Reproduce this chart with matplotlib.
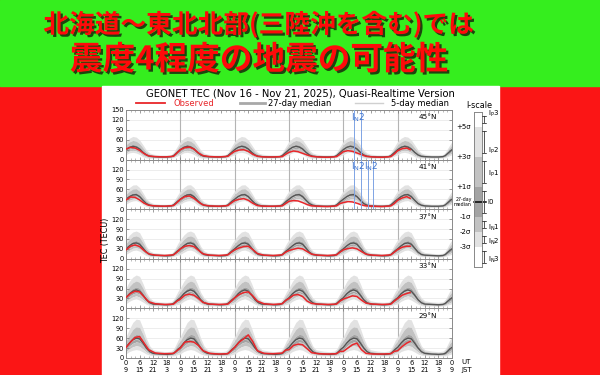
import matplotlib.pyplot as plt
import matplotlib.patheffects as pe
from matplotlib.patches import Rectangle
from matplotlib.lines import Line2D
import numpy as np

plt.rcParams['font.family'] = ['DejaVu Sans']

HEADLINE_1 = '北海道〜東北北部(三陸沖を含む)では'
HEADLINE_2 = '震度4程度の地震の可能性'
TITLE = 'GEONET TEC (Nov 16 - Nov 21, 2025), Quasi-Realtime Version'
LATS = ['45°N', '41°N', '37°N', '33°N', '29°N']
N_DAYS = 6

# knots (UT hour) of the daily median / sigma profiles
PROFILE_H = [0, 1.5, 3, 4.5, 6, 7.5, 9, 10.5, 12, 15, 18, 20, 21, 22, 23]

MED27_45 = [30, 37, 40, 38, 32, 22, 14, 10, 9, 8, 8, 9, 12, 18, 24]
MED27_41 = [30, 38, 43, 44, 38, 27, 17, 12, 10, 9, 9, 10, 13, 19, 25]
MED27_37 = [30, 39, 46, 48, 44, 32, 20, 13, 11, 10, 9, 10, 13, 19, 25]
MED27_33 = [32, 44, 52, 56, 52, 40, 26, 17, 13, 12, 11, 12, 15, 21, 27]
MED27_29 = [32, 45, 55, 60, 58, 45, 30, 19, 14, 12, 11, 12, 14, 20, 27]

MED5_45 = [28, 34, 37, 35, 29, 20, 13, 10, 9, 8, 8, 9, 11, 17, 23]
MED5_41 = [28, 35, 39, 40, 35, 25, 16, 11, 10, 9, 9, 10, 12, 18, 24]
MED5_37 = [29, 37, 43, 45, 41, 30, 19, 13, 11, 10, 9, 10, 13, 19, 25]
MED5_33 = [31, 42, 48, 52, 48, 37, 24, 16, 13, 12, 11, 12, 14, 20, 26]
MED5_29 = [30, 43, 52, 57, 54, 42, 28, 18, 14, 12, 11, 12, 14, 20, 26]

SIG_45 = [5, 5.5, 6, 6, 5.5, 4.5, 3, 2, 1.5, 1.2, 1.2, 1.3, 2, 3, 4]
SIG_41 = [5, 5.5, 6, 6, 5.5, 4.5, 3, 2, 1.5, 1.2, 1.2, 1.3, 2, 3, 4]
SIG_37 = [5.5, 6.5, 7, 7.2, 7, 5.5, 3.5, 2.2, 1.6, 1.3, 1.3, 1.4, 2, 3.2, 4.5]
SIG_33 = [6, 7.5, 8.5, 9, 9, 7, 4.5, 3, 2, 1.5, 1.5, 1.6, 2.4, 3.6, 5]
SIG_29 = [6.5, 8.5, 10.5, 11.5, 11.5, 9, 6, 3.5, 2.2, 1.8, 1.6, 1.8, 2.6, 4, 5.5]

# observed TEC, read at these UT hours of each day (Nov 16..20), then Nov 21 morning
OBS_H = [0, 2, 4, 6, 8, 10, 13, 17, 21, 22.5]
OBS_H_LAST = [0, 2, 4, 5.5]

OBS_45 = [32, 37, 35, 28, 18, 11, 9, 8, 10, 20,
          30, 36, 38, 32, 20, 12, 9, 8, 10, 18,
          25, 29, 30, 25, 16, 10, 8, 8, 9, 16,
          22, 26, 24, 19, 14, 10, 8, 7, 9, 16,
          24, 27, 25, 20, 15, 10, 8, 7, 9, 17,
          27, 33, 35, 30]
OBS_41 = [28, 37, 36, 28, 18, 12, 10, 9, 11, 20,
          30, 38, 40, 33, 22, 13, 10, 9, 11, 19,
          26, 30, 32, 27, 18, 11, 9, 9, 10, 17,
          24, 26, 25, 20, 14, 10, 9, 8, 10, 17,
          20, 23, 22, 18, 13, 10, 9, 8, 10, 17,
          27, 34, 38, 33]
OBS_37 = [27, 38, 42, 37, 25, 15, 11, 10, 12, 20,
          30, 38, 40, 37, 26, 15, 11, 10, 12, 20,
          27, 33, 37, 38, 28, 16, 11, 10, 12, 20,
          25, 29, 32, 30, 22, 14, 11, 10, 12, 20,
          27, 31, 33, 30, 22, 14, 11, 10, 12, 20,
          28, 35, 38, 38]
OBS_33 = [33, 45, 52, 50, 35, 20, 14, 12, 13, 22,
          28, 40, 43, 40, 30, 18, 13, 12, 13, 22,
          32, 42, 48, 50, 38, 22, 14, 12, 14, 24,
          30, 40, 42, 36, 22, 15, 13, 12, 13, 22,
          28, 33, 38, 36, 25, 16, 13, 12, 13, 22,
          30, 40, 45, 48]
OBS_29 = [32, 48, 62, 65, 45, 25, 15, 13, 14, 22,
          30, 48, 50, 48, 38, 22, 14, 12, 13, 22,
          32, 48, 58, 70, 50, 22, 14, 13, 15, 24,
          25, 38, 42, 40, 28, 16, 13, 12, 13, 20,
          20, 30, 40, 45, 25, 14, 12, 12, 13, 20,
          22, 35, 45, 50]

MED27 = [MED27_45, MED27_41, MED27_37, MED27_33, MED27_29]
MED5 = [MED5_45, MED5_41, MED5_37, MED5_33, MED5_29]
SIGMA = [SIG_45, SIG_41, SIG_37, SIG_33, SIG_29]
OBS = [OBS_45, OBS_41, OBS_37, OBS_33, OBS_29]

# I_N2 anomaly windows (hours since Nov 16 00 UT)
ANOMALY = {0: [(100.9, 104.0)], 1: [(100.9, 104.0), (107.1, 109.3)]}

# I-scale bar
ISCALE_EDGES = [6, 5, 3, 1, -1, -2, -3, -4.33]
ISCALE_COLORS = ['white', '#e2e2e2', '#c2c2c2', '#a3a3a3', '#c2c2c2', '#e2e2e2', 'white']
SIGMA_LABELS = {5: '+5σ', 3: '+3σ', 1: '+1σ', -1: '-1σ', -2: '-2σ', -3: '-3σ'}
LEVEL_NAMES = [(5.9, r'I$_\mathrm{P}$3'), (3.4, r'I$_\mathrm{P}$2'), (1.9, r'I$_\mathrm{P}$1'),
               (0, 'I0'), (-1.7, r'I$_\mathrm{N}$1'), (-2.65, r'I$_\mathrm{N}$2'),
               (-3.85, r'I$_\mathrm{N}$3')]


def tile_profile(values):
    t = np.concatenate([d * 24 + np.array(PROFILE_H) for d in range(N_DAYS)] + [[N_DAYS * 24]])
    v = np.array(list(values) * N_DAYS + [values[0]], dtype=float)
    return t, v


obs_t = np.concatenate([d * 24 + np.array(OBS_H) for d in range(5)] + [120 + np.array(OBS_H_LAST)])

W, H = 600, 375
fig = plt.figure(figsize=(6, 3.75), dpi=100, facecolor='#fb1515')
fig.patches.append(Rectangle((0, 1 - 86 / H), 1, 86 / H, transform=fig.transFigure,
                             color='#35ee1e', zorder=-5))
fig.patches.append(Rectangle((102 / W, 0), 397 / W, 1 - 86 / H, transform=fig.transFigure,
                             color='white', zorder=-5))

# headline
shadow = [pe.withSimplePatchShadow(offset=(1.6, -1.6), shadow_rgbFace='#1a330d', alpha=0.9)]
jp = ['Noto Sans CJK JP', 'DejaVu Sans']
fig.text(259 / W, 1 - 25 / H, HEADLINE_1, ha='center', va='center', fontsize=18.5,
         fontweight='bold', color='#ff0a0a', family=jp, path_effects=shadow)
fig.text(259 / W, 1 - 60 / H, HEADLINE_2, ha='center', va='center', fontsize=23.5,
         fontweight='bold', color='#ff0a0a', family=jp, path_effects=shadow)

# title and legend
fig.text(300 / W, 1 - 93 / H, TITLE, ha='center', va='center', fontsize=7.2)
ly = 1 - 103 / H
fig.lines.append(Line2D([136 / W, 165 / W], [ly, ly], transform=fig.transFigure, color='#e8262a', lw=1.3))
fig.text(173 / W, ly, 'Observed', color='#e8262a', fontsize=6, va='center')
fig.lines.append(Line2D([240 / W, 265 / W], [ly, ly], transform=fig.transFigure, color='#a8a8a8', lw=2))
fig.text(268 / W, ly, '27-day median', fontsize=6, va='center')
fig.lines.append(Line2D([355 / W, 383 / W], [ly, ly], transform=fig.transFigure, color='#d0d0d0', lw=1))
fig.text(391 / W, ly, '5-day median', fontsize=6, va='center')

fig.text(106 / W, 1 - 240 / H, 'TEC (TECU)', rotation=90, ha='center', va='center', fontsize=5.8)

left, right, top = 126, 452, 110
ph = 49.6
for i in range(5):
    bottom_px = top + (i + 1) * ph
    ax = fig.add_axes([left / W, 1 - bottom_px / H, (right - left) / W, ph / H])
    ax.set_xlim(0, N_DAYS * 24)
    ax.set_ylim(0, 150)

    t, m = tile_profile(MED27[i])
    _, s = tile_profile(SIGMA[i])
    _, m5 = tile_profile(MED5[i])
    ax.fill_between(t, m + 3 * s, m + 5 * s, color='#e2e2e2', lw=0)
    ax.fill_between(t, m + 1 * s, m + 3 * s, color='#c2c2c2', lw=0)
    ax.fill_between(t, m - 1 * s, m + 1 * s, color='#a3a3a3', lw=0)
    ax.fill_between(t, m - 2 * s, m - 1 * s, color='#c2c2c2', lw=0)
    ax.fill_between(t, m - 3 * s, m - 2 * s, color='#e2e2e2', lw=0)
    ax.plot(t, m5, color='#cfcfcf', lw=0.7)
    ax.plot(t, m, color='#555555', lw=1.0)
    ax.plot(obs_t, OBS[i], color='#e8262a', lw=1.1, zorder=5)

    for yv in [30, 60, 90, 120]:
        ax.axhline(yv, color='#e6e6e6', lw=0.5, zorder=0)
    for d in range(1, N_DAYS):
        ax.axvline(d * 24, color='#b4b4b4', lw=0.8, zorder=0.5)

    for (a, b) in ANOMALY.get(i, []):
        for xv in (a, b):
            ax.axvline(xv, color='#7fa4e4', lw=0.7, zorder=6)
        ax.text((a + b) / 2, 0.85, r'I$_\mathrm{N}$2', transform=ax.get_xaxis_transform(),
                ha='center', va='center', fontsize=6.5, color='#3f74cf', zorder=7)

    ax.text(0.955, 0.85, LATS[i], transform=ax.transAxes, ha='right', va='center', fontsize=5.2)

    ax.set_yticks([0, 30, 60, 90, 120, 150])
    ax.set_yticklabels(['0', '30', '60', '90', '120', '150' if i == 0 else ''])
    ax.set_xticks(np.arange(0, N_DAYS * 24 + 1, 6))
    ax.set_xticks(np.arange(0, N_DAYS * 24 + 1, 2), minor=True)
    if i == 4:
        ax.set_xticklabels([f'{h % 24}\n{(h + 9) % 24}' for h in range(0, N_DAYS * 24 + 1, 6)],
                           linespacing=1.15)
    else:
        ax.set_xticklabels([])
    ax.tick_params(axis='both', which='major', direction='in', labelsize=4.8, length=2.5,
                   width=0.5, color='#777777', pad=1.5, top=True, right=True)
    ax.tick_params(axis='x', which='minor', direction='in', length=1.3, width=0.4,
                   color='#888888', top=True)
    for sp in ax.spines.values():
        sp.set_color('#8a8a8a')
        sp.set_linewidth(0.7)

fig.text(461 / W, 1 - 362 / H, 'UT', fontsize=5, va='center')
fig.text(461 / W, 1 - 370 / H, 'JST', fontsize=5, va='center')

# I-scale bar
sax = fig.add_axes([474 / W, 1 - 267 / H, 8 / W, 155 / H])
sax.set_xlim(0, 1)
sax.set_ylim(ISCALE_EDGES[-1], ISCALE_EDGES[0])
for k, c in enumerate(ISCALE_COLORS):
    sax.axhspan(ISCALE_EDGES[k + 1], ISCALE_EDGES[k], color=c, lw=0)
sax.set_xticks([])
sax.set_yticks([])
for sp in sax.spines.values():
    sp.set_color('#888888')
    sp.set_linewidth(0.7)
sax.plot([0, 1.45], [0, 0], color='black', lw=1.1, clip_on=False)
for lvl, lab in SIGMA_LABELS.items():
    sax.text(-0.35, lvl, lab, transform=sax.get_yaxis_transform(), ha='right', va='center',
             fontsize=5)
sax.text(-0.3, 0, '27-day\nmedian', transform=sax.get_yaxis_transform(), ha='right',
         va='center', fontsize=3.4, linespacing=1.0)
for k in range(len(ISCALE_EDGES) - 1):
    sax.annotate('', xy=(1.3, ISCALE_EDGES[k + 1] + 0.1), xytext=(1.3, ISCALE_EDGES[k] - 0.1),
                 xycoords=sax.get_yaxis_transform(), annotation_clip=False,
                 arrowprops=dict(arrowstyle='|-|,widthA=0.15,widthB=0.15', lw=0.6, color='#333333'))
for lvl, lab in LEVEL_NAMES:
    sax.text(1.7, lvl, lab, transform=sax.get_yaxis_transform(), ha='left', va='center',
             fontsize=5)
sax.text(0.6, 6.15, 'I-scale', transform=sax.get_yaxis_transform(), ha='center', va='bottom',
         fontsize=5.8)

fig.savefig('out.png', dpi=100, facecolor=fig.get_facecolor())
